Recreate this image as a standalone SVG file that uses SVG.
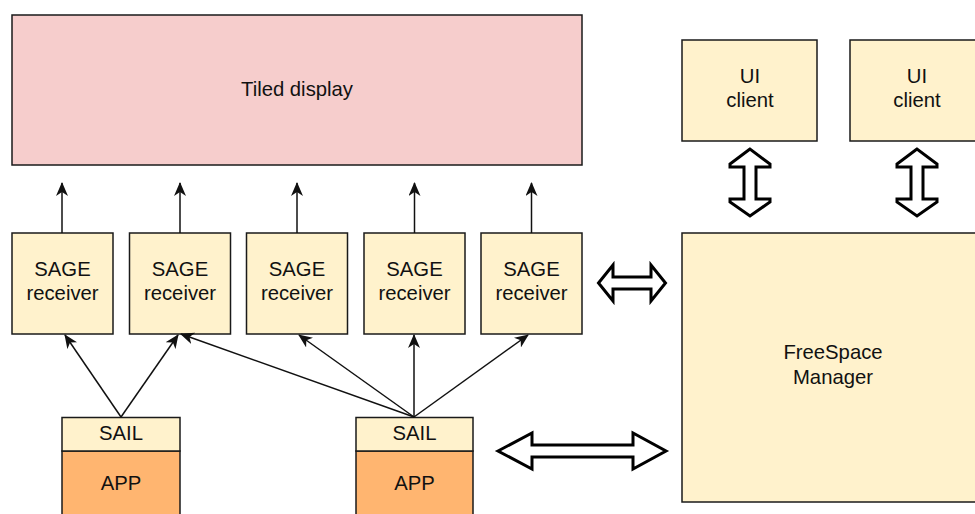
<svg xmlns="http://www.w3.org/2000/svg" width="975" height="514" viewBox="0 0 975 514">
<defs>
<style>
.box{stroke:#1a1a1a;stroke-width:1.5}
.recv{fill:#fff2cc}
.disp{fill:#f6cdcc}
.app{fill:#ffb570}
.t{font-family:"Liberation Sans",Arial,sans-serif;font-size:20.3px;fill:#111;text-anchor:middle}
.ln{stroke:#111;stroke-width:1.5;fill:none;marker-end:url(#ah)}
.blk{fill:#fff;stroke:#000;stroke-width:3;stroke-linejoin:miter}
</style>
<marker id="ah" viewBox="0 0 14 12" refX="13" refY="6" markerWidth="14" markerHeight="12" orient="auto" markerUnits="userSpaceOnUse">
<path d="M0,0 L14,6 L0,12 L4,6 Z" fill="#111"/>
</marker>
</defs>
<rect width="975" height="514" fill="#fff"/>

<g id="tiled-display">
<rect class="box disp" x="12" y="15" width="570" height="150"/>
<text class="t" x="297" y="96">Tiled display</text>
</g>

<g id="receiver1"><rect class="box recv" x="12" y="233" width="101" height="101"/><text class="t" x="62.5" y="276">SAGE</text><text class="t" x="62.5" y="300">receiver</text></g>
<g id="receiver2"><rect class="box recv" x="129.5" y="233" width="101" height="101"/><text class="t" x="180" y="276">SAGE</text><text class="t" x="180" y="300">receiver</text></g>
<g id="receiver3"><rect class="box recv" x="246.5" y="233" width="101" height="101"/><text class="t" x="297" y="276">SAGE</text><text class="t" x="297" y="300">receiver</text></g>
<g id="receiver4"><rect class="box recv" x="364" y="233" width="101" height="101"/><text class="t" x="414.5" y="276">SAGE</text><text class="t" x="414.5" y="300">receiver</text></g>
<g id="receiver5"><rect class="box recv" x="481" y="233" width="101" height="101"/><text class="t" x="531.5" y="276">SAGE</text><text class="t" x="531.5" y="300">receiver</text></g>

<g id="app1">
<rect class="box app" x="62" y="451" width="118" height="70"/>
<rect class="box recv" x="62" y="417.5" width="118" height="33.5"/>
<text class="t" x="121" y="440">SAIL</text>
<text class="t" x="121" y="490">APP</text>
</g>
<g id="app2">
<rect class="box app" x="356" y="451" width="117" height="70"/>
<rect class="box recv" x="356" y="417.5" width="117" height="33.5"/>
<text class="t" x="414.5" y="440">SAIL</text>
<text class="t" x="414.5" y="490">APP</text>
</g>

<g id="ui-client1"><rect class="box recv" x="682" y="40" width="135" height="101"/><text class="t" x="750" y="83">UI</text><text class="t" x="750" y="107">client</text></g>
<g id="ui-client2"><rect class="box recv" x="850" y="40" width="135" height="101"/><text class="t" x="917" y="83">UI</text><text class="t" x="917" y="107">client</text></g>

<g id="freespace-manager"><rect class="box recv" x="682" y="233" width="305" height="269"/><text class="t" x="833" y="359">FreeSpace</text><text class="t" x="833" y="384">Manager</text></g>

<g id="connectors">
<line class="ln" x1="62" y1="233" x2="62" y2="183"/>
<line class="ln" x1="180" y1="233" x2="180" y2="183"/>
<line class="ln" x1="297" y1="233" x2="297" y2="183"/>
<line class="ln" x1="414.5" y1="233" x2="414.5" y2="183"/>
<line class="ln" x1="531.5" y1="233" x2="531.5" y2="183"/>

<line class="ln" x1="121" y1="417" x2="65" y2="335"/>
<line class="ln" x1="121" y1="417" x2="178" y2="335"/>
<line class="ln" x1="414" y1="417" x2="181" y2="334"/>
<line class="ln" x1="414" y1="417" x2="299" y2="335"/>
<line class="ln" x1="414" y1="417" x2="414" y2="335"/>
<line class="ln" x1="414" y1="417" x2="528" y2="335"/>

<polygon class="blk" points="750,149 730,164 730,167 744,167 744,199 730,199 730,202 750,216 770,202 770,199 756,199 756,167 770,167 770,164"/>
<polygon class="blk" points="917,149 897,164 897,167 911,167 911,199 897,199 897,202 917,216 937,202 937,199 923,199 923,167 937,167 937,164"/>
<polygon class="blk" points="598.5,283 613,265 613,277 651,277 651,265 665.5,283 651,301 651,289 613,289 613,301"/>
<polygon class="blk" points="498,451 532,433 532,445 633,445 633,433 666,451 633,469 633,457 532,457 532,469"/>
</g>
</svg>
